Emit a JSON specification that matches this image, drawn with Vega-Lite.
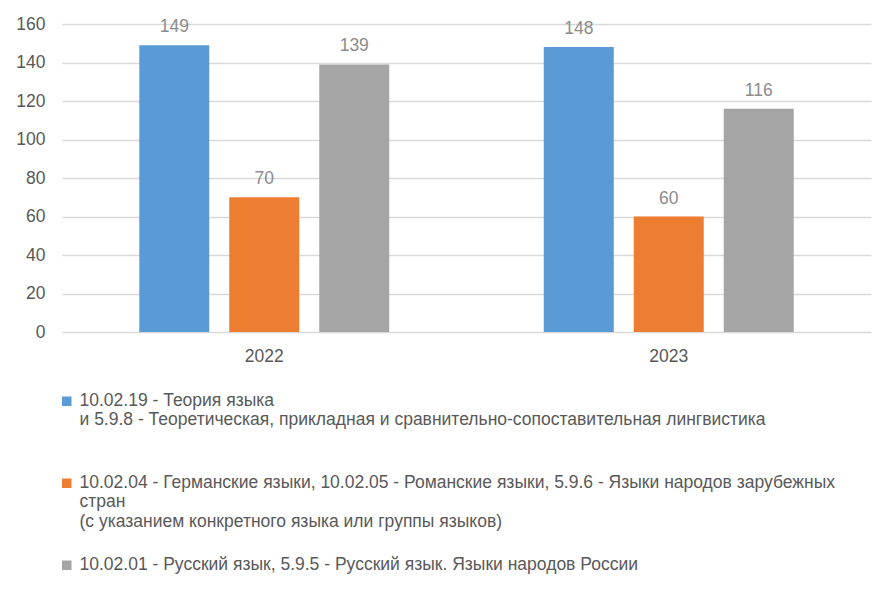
{
  "$schema": "https://vega.github.io/schema/vega-lite/v6.json",
  "width": 809,
  "height": 308,
  "autosize": {"type": "none"},
  "padding": {"left": 62, "top": 24, "right": 25, "bottom": 263},
  "background": "white",
  "config": {"font": "Liberation Sans", "view": {"stroke": null}},
  "data": {"values": [
    {"year": "2022", "cat": "10.02.19 - Теория языка\nи 5.9.8 - Теоретическая, прикладная и сравнительно-сопоставительная лингвистика\n", "value": 149},
    {"year": "2022", "cat": "10.02.04 - Германские языки, 10.02.05 - Романские языки, 5.9.6 - Языки народов зарубежных\nстран\n(с указанием конкретного языка или группы языков)", "value": 70},
    {"year": "2022", "cat": "10.02.01 - Русский язык, 5.9.5 - Русский язык. Языки народов России", "value": 139},
    {"year": "2023", "cat": "10.02.19 - Теория языка\nи 5.9.8 - Теоретическая, прикладная и сравнительно-сопоставительная лингвистика\n", "value": 148},
    {"year": "2023", "cat": "10.02.04 - Германские языки, 10.02.05 - Романские языки, 5.9.6 - Языки народов зарубежных\nстран\n(с указанием конкретного языка или группы языков)", "value": 60},
    {"year": "2023", "cat": "10.02.01 - Русский язык, 5.9.5 - Русский язык. Языки народов России", "value": 116}
  ]},
  "encoding": {
    "x": {"field": "year", "type": "nominal",
      "scale": {"paddingInner": 0.382, "paddingOuter": 0.191},
      "axis": {"title": null, "labelAngle": 0, "domain": false, "ticks": false, "labelFontSize": 17.5, "labelColor": "#595959", "labelPadding": 15}},
    "xOffset": {"field": "cat", "type": "nominal",
      "scale": {"domain": [
        "10.02.19 - Теория языка\nи 5.9.8 - Теоретическая, прикладная и сравнительно-сопоставительная лингвистика\n",
        "10.02.04 - Германские языки, 10.02.05 - Романские языки, 5.9.6 - Языки народов зарубежных\nстран\n(с указанием конкретного языка или группы языков)",
        "10.02.01 - Русский язык, 5.9.5 - Русский язык. Языки народов России"], "paddingInner": 0.2222, "paddingOuter": 0}},
    "y": {"field": "value", "type": "quantitative",
      "scale": {"domain": [0, 160]},
      "axis": {"title": null, "values": [0, 20, 40, 60, 80, 100, 120, 140, 160], "domain": false, "ticks": false, "labelFontSize": 17.5, "labelColor": "#595959", "labelPadding": 17, "gridColor": "#d9d9d9", "gridWidth": 1.5}}
  },
  "layer": [
    {"mark": {"type": "bar"},
     "encoding": {
       "color": {"field": "cat", "type": "nominal",
         "scale": {"domain": [
           "10.02.19 - Теория языка\nи 5.9.8 - Теоретическая, прикладная и сравнительно-сопоставительная лингвистика\n",
           "10.02.04 - Германские языки, 10.02.05 - Романские языки, 5.9.6 - Языки народов зарубежных\nстран\n(с указанием конкретного языка или группы языков)",
           "10.02.01 - Русский язык, 5.9.5 - Русский язык. Языки народов России"],
           "range": ["#5B9BD5", "#ED7D31", "#A5A5A5"]},
         "legend": {"title": null, "orient": "none", "legendX": -4, "legendY": 359, "direction": "vertical", "padding": 0,
           "symbolType": "M-1,1H1V3H-1Z", "symbolSize": 90, "symbolStrokeWidth": 0, "symbolOpacity": 1,
           "labelFontSize": 17.5, "labelColor": "#595959", "labelLimit": 900, "labelOffset": 4, "labelBaseline": "top",
           "rowPadding": 16, "labelExpr": "split(datum.label, '\\n')"}}
     }},
    {"mark": {"type": "text", "baseline": "alphabetic", "dy": -13, "fontSize": 17.5, "color": "#8c8c8c"},
     "encoding": {"text": {"field": "value", "type": "quantitative"}}}
  ]
}
